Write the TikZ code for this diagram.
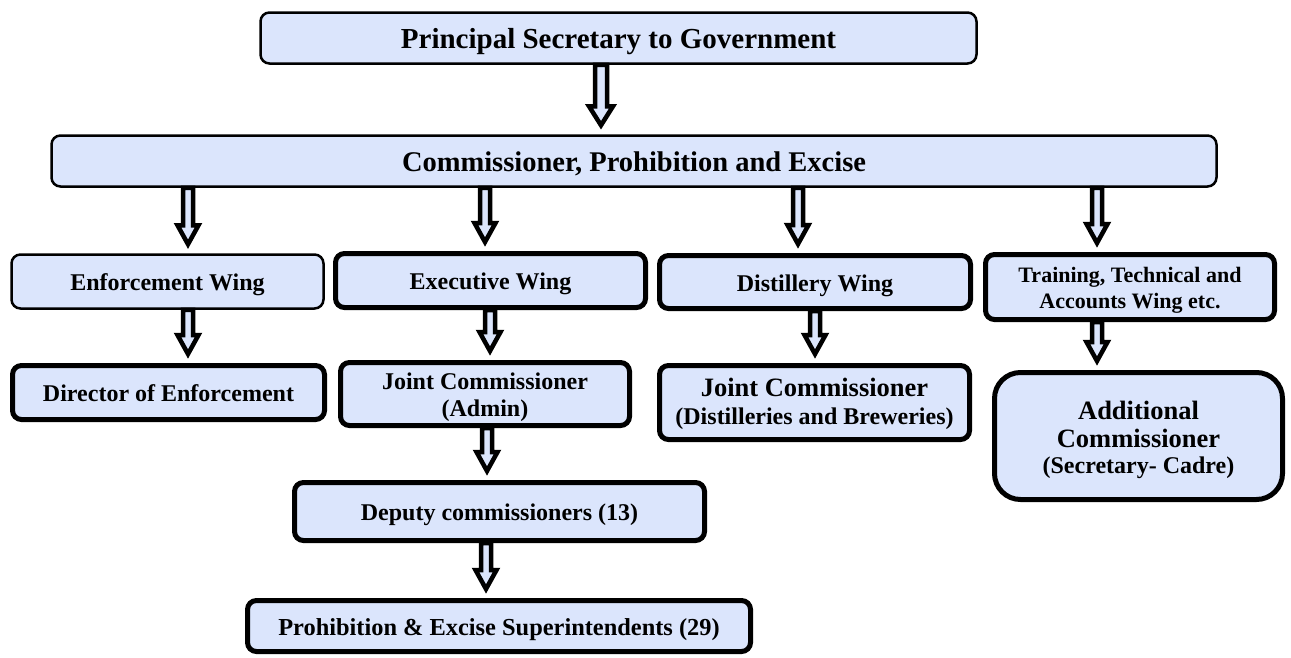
\documentclass[tikz,border=0pt]{standalone}
\usepackage{fontspec}
\setmainfont{Liberation Serif}
\usetikzlibrary{calc}
\definecolor{boxfill}{RGB}{219,229,252}
\tikzset{
  box/.style={draw=black, fill=boxfill, rounded corners=9pt, align=center,
    inner sep=0pt},
  thinbox/.style={box, line width=2.5pt},
  thickbox/.style={box, line width=5pt},
  % one-line labels: fixed line metrics so the baseline sits like the rest
  fs24/.style={font=\bfseries\fontsize{24}{27}\selectfont, text height=21.6pt, text depth=3.6pt},
  barrow/.style={draw=black, fill=boxfill, line width=4.5pt, line join=miter},
}
% strut that lowers a multi-line label inside its box
\newcommand\lift[1]{\rule{0pt}{#1}}
% hollow block arrow from the bottom of #1 to the top of #2, along the x of #3
\newlength\shafthalf \setlength\shafthalf{5pt}
\newlength\headhalf  \setlength\headhalf{10.5pt}
\newcommand\blockarrow[3]{%
  \filldraw[barrow] let \p1=(#1.south -| #3), \p2=(#2.north -| #3) in
    (\x1-\shafthalf,\y1) -- (\x1-\shafthalf,\y2+28pt) -- (\x1-\headhalf,\y2+28pt)
    -- (\x1,\y2+9pt) -- (\x1+\headhalf,\y2+28pt) -- (\x1+\shafthalf,\y2+28pt)
    -- (\x1+\shafthalf,\y1) -- cycle;}
\begin{document}
\begin{tikzpicture}[x=1pt,y=-1pt]
  \useasboundingbox[fill=white] (0,0) rectangle (1291,657);

  % boxes
  \node[thinbox, font=\bfseries\fontsize{29}{33}\selectfont, text height=26.1pt, text depth=4.35pt,
        minimum width=716, minimum height=51] (ps) at (618.5,38)
    {Principal Secretary to Government};
  \node[thinbox, font=\bfseries\fontsize{28.5}{33}\selectfont, text height=25.6pt, text depth=4.3pt,
        minimum width=1165, minimum height=51] (comm) at (634,161)
    {Commissioner, Prohibition and Excise};

  \node[thinbox, fs24, minimum width=312, minimum height=54] (enf) at (167.5,281.5)
    {Enforcement Wing};
  \node[thickbox, fs24, minimum width=310, minimum height=54] (exe) at (490.5,280.5)
    {Executive Wing};
  \node[thickbox, fs24, minimum width=311, minimum height=53] (dist) at (815,282)
    {Distillery Wing};
  \node[thickbox, font=\bfseries\fontsize{22}{26}\selectfont, minimum width=289, minimum height=65] (train) at (1130,287)
    {\lift{21pt}Training, Technical and\\Accounts Wing etc.};

  \node[thickbox, fs24, minimum width=312, minimum height=54] (dir) at (168.5,392.5)
    {Director of Enforcement};
  \node[thickbox, font=\bfseries\fontsize{24}{27}\selectfont, minimum width=289, minimum height=63] (jca) at (485,394)
    {\lift{24pt}Joint Commissioner\\(Admin)};
  \node[thickbox, font=\bfseries\fontsize{26.5}{28}\selectfont, minimum width=310, minimum height=74] (jcd) at (814.5,402.5)
    {\lift{22pt}Joint Commissioner\\{\fontsize{24}{27}\selectfont (Distilleries and Breweries)}};
  \node[thickbox, rounded corners=26pt, font=\bfseries\fontsize{26.5}{28}\selectfont,
        minimum width=288, minimum height=127] (addl) at (1138.5,436)
    {\lift{26pt}Additional\\Commissioner\\[-2pt]{\fontsize{24}{25}\selectfont (Secretary- Cadre)}};

  \node[thickbox, fs24, minimum width=410, minimum height=58] (dep) at (499.5,511.5)
    {Deputy commissioners (13)};
  \node[thickbox, fs24, font=\bfseries\fontsize{24.4}{27}\selectfont, minimum width=503, minimum height=51] (sup) at (499,626)
    {Prohibition \& Excise Superintendents (29)};

  % arrow lanes
  \coordinate (l0) at (601,0);
  \coordinate (l1) at (188,0);
  \coordinate (l2) at (485,0);
  \coordinate (l3) at (798,0);
  \coordinate (l4) at (1097,0);
  \coordinate (l6) at (490,0);
  \coordinate (l7) at (815,0);
  \coordinate (l9) at (487,0);
  \coordinate (l10) at (486,0);

  % arrows
  {\setlength\shafthalf{6pt}\setlength\headhalf{12pt}
   \blockarrow{ps}{comm}{l0}}
  \blockarrow{comm}{enf}{l1}
  \blockarrow{comm}{exe}{l2}
  \blockarrow{comm}{dist}{l3}
  \blockarrow{comm}{train}{l4}
  \blockarrow{enf}{dir}{l1}
  \blockarrow{exe}{jca}{l6}
  \blockarrow{dist}{jcd}{l7}
  \blockarrow{train}{addl}{l4}
  \blockarrow{jca}{dep}{l9}
  \blockarrow{dep}{sup}{l10}
\end{tikzpicture}
\end{document}
